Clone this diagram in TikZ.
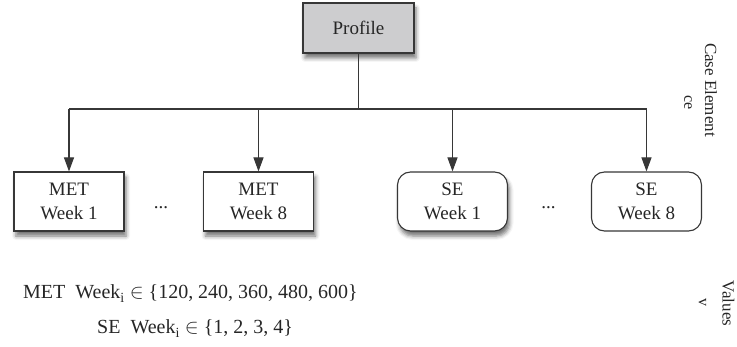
\documentclass[tikz,border=0pt]{standalone}
\usepackage{fontspec}
\setmainfont{Liberation Serif}
\usetikzlibrary{arrows.meta,shadows.blur}
\definecolor{ln}{RGB}{55,55,55}
\definecolor{pf}{RGB}{205,205,207}
\tikzset{
  txt/.style={font=\fontsize{19}{24}\selectfont, text=black!85},
  box/.style={txt, draw=ln, line width=1.1pt, fill=white, align=center,
    minimum width=110pt, minimum height=59pt, inner sep=0pt},
  rbox/.style={box, rounded corners=13pt},
  shad/.style={blur shadow={shadow xshift=2pt, shadow yshift=-5pt, shadow blur radius=4pt, shadow opacity=55}},
  arr/.style={draw=ln, line width=1.1pt, -{Triangle[length=14pt,width=10pt]}},
  conn/.style={draw=ln, line width=1.1pt},
  side/.style={font=\fontsize{17}{20}\selectfont, text=black!85, inner sep=0pt, rotate=-90},
  eq/.style={font=\fontsize{20}{24}\selectfont, text=black!85, anchor=base west, inner sep=0pt}
}
\begin{document}
\begin{tikzpicture}[x=1pt,y=-1pt]
\useasboundingbox (0,0) rectangle (737,347);
\node[box, shad, fill=pf, minimum width=111pt, minimum height=50pt] (prof) at (358.5,28) {Profile};
\node[box, shad] (m1) at (69,201.5) {MET\\Week 1};
\node[box, shad] (m8) at (258.5,201.5) {MET\\Week 8};
\node[rbox, shad] (s1) at (452.5,201.5) {SE\\Week 1};
\node[rbox] (s8) at (646.5,201.5) {SE\\Week 8};
\node[txt, anchor=base] (d1) at (161,209) {...};
\node[txt, anchor=base] (d2) at (548.5,209) {...};
\coordinate (j) at (358.5,109);
\coordinate (hl) at (69,109);
\coordinate (hr) at (646.5,109);
\draw[conn] (prof.south) -- (j);
\draw[conn] (hl) -- (hr);
\draw[arr] (hl) -- (m1.north);
\draw[arr] (m8.north |- j) -- (m8.north);
\draw[arr] (s1.north |- j) -- (s1.north);
\draw[arr] (hr) -- (s8.north);
\node[side] (ce) at (711,90) {Case Element};
\node[side, font=\fontsize{16}{20}\selectfont] (ceab) at (688,103) {ce};
\node[side] (val) at (728.5,303.5) {Values};
\node[side, font=\fontsize{16}{20}\selectfont] (vab) at (702.5,302.5) {v};
\node[eq] (l1) at (23,299) {MET\ \ Week\textsubscript{i} $\in$ \{120, 240, 360, 480, 600\}};
\node[eq] (l2) at (97,334) {SE\ \ Week\textsubscript{i} $\in$ \{1, 2, 3, 4\}};
\end{tikzpicture}
\end{document}
